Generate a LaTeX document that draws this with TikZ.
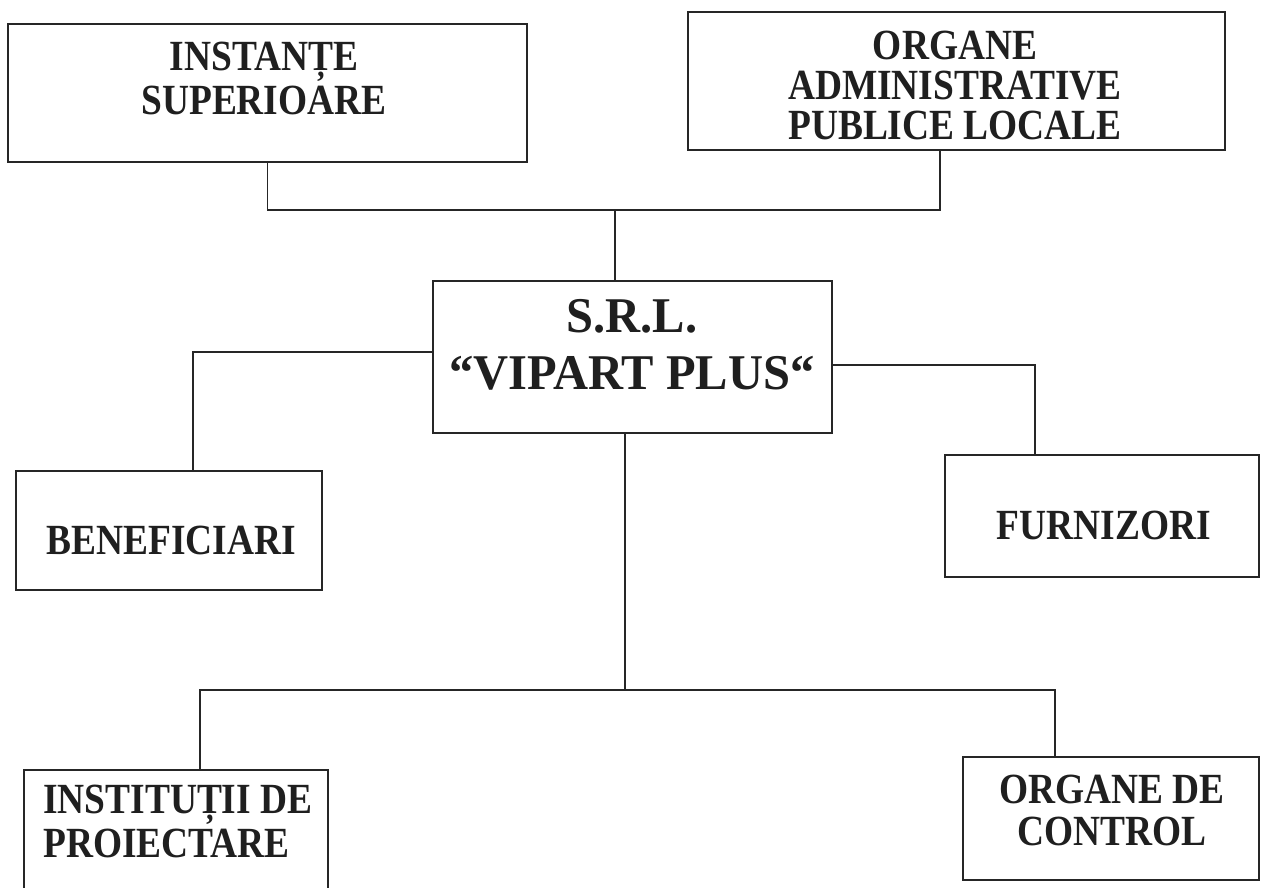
\documentclass[tikz,border=0pt]{standalone}
\usepackage{fontspec}
\setmainfont{Liberation Serif}[FakeStretch=0.87]
\newfontfamily\srlfont{Liberation Serif}[FakeStretch=0.97]
\begin{document}
\begin{tikzpicture}[x=1pt,y=-1pt,
  box/.style={draw=black!85,line width=1.6pt,inner sep=0pt},
  lbl/.style={inner sep=0pt,align=center,text=black!88,font=\bfseries\fontsize{43}{40}\selectfont},
  wide/.style={font=\bfseries\fontsize{43}{44}\selectfont},
  conn/.style={draw=black!85,line width=1.6pt}]
\useasboundingbox (0,0) rectangle (1261,888);
\clip (0,0) rectangle (1261,888);
\fill[white] (0,0) rectangle (1261,888);
% boxes
\node[box,minimum width=519pt,minimum height=138pt] (is) at (267.5,93) {};
\node[box,minimum width=537pt,minimum height=138pt] (oa) at (956.5,81) {};
\node[box,minimum width=399pt,minimum height=152pt] (srl) at (632.5,357) {};
\node[box,minimum width=306pt,minimum height=119pt] (ben) at (169,530.5) {};
\node[box,minimum width=314pt,minimum height=122pt] (fur) at (1102,516) {};
\node[box,minimum width=304pt,minimum height=130pt] (ip) at (176,835) {};
\node[box,minimum width=296pt,minimum height=123pt] (oc) at (1111,818.5) {};
% texts
\node[lbl,wide] (ist) at (264,78) {INSTANȚE\\SUPERIOARE};
\node[lbl] (oat) at (955,85) {ORGANE\\ADMINISTRATIVE\\PUBLICE LOCALE};
\node[lbl,font=\srlfont\bfseries\fontsize{50}{57}\selectfont] (srlt) at (632,345) {S.R.L.\\“VIPART PLUS“};
\node[lbl] (bent) at (171,540) {BENEFICIARI};
\node[lbl] (furt) at (1104,525) {FURNIZORI};
\node[lbl,wide,align=left,anchor=west] (ipt) at (43,821) {INSTITUȚII DE\\PROIECTARE};
\node[lbl,font=\bfseries\fontsize{43}{42}\selectfont] (oct) at (1112,810) {ORGANE DE\\CONTROL};
% connectors
\coordinate (jt) at (615,210);
\coordinate (jb) at (625,690);
\draw[conn] (is.south) |- (jt) -| ([xshift=-16.5pt]oa.south);
\draw[conn] (jt) -- (jt |- srl.north);
\draw[conn] ([yshift=5pt]srl.west) -| ([xshift=24pt]ben.north);
\draw[conn] ([yshift=-8pt]srl.east) -| ([xshift=-67pt]fur.north);
\draw[conn] ([xshift=-7.5pt]srl.south) -- (jb);
\draw[conn] ([xshift=24pt]ip.north) |- (jb) -| ([xshift=-56pt]oc.north);
\end{tikzpicture}
\end{document}
